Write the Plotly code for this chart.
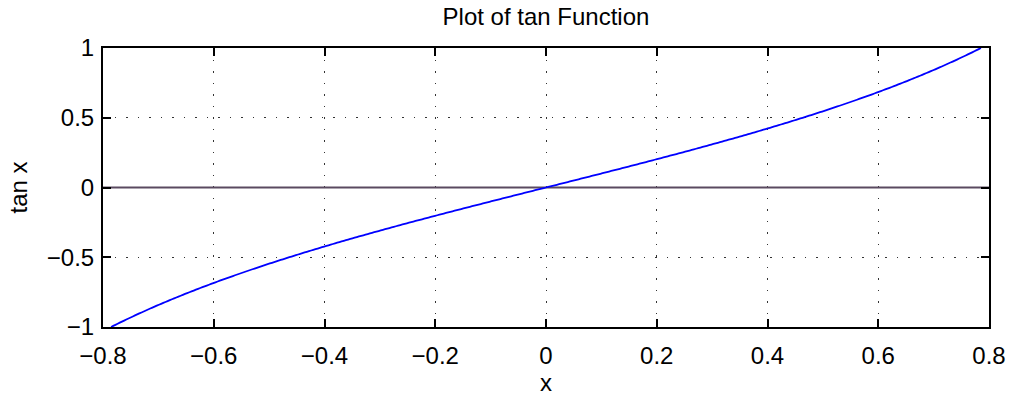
import numpy as np
import plotly.graph_objects as go

# data
x_start = -np.pi / 4
x_end = np.pi / 4
n_points = 401
x_vals = np.linspace(x_start, x_end, n_points)
y_vals = np.tan(x_vals)
zero_x = [-0.8, 0.8]
zero_y = [0, 0]
x_ticks = [-0.8, -0.6, -0.4, -0.2, 0, 0.2, 0.4, 0.6, 0.8]
y_ticks = [-1, -0.5, 0, 0.5, 1]

fig = go.Figure()
fig.add_trace(go.Scatter(x=zero_x, y=zero_y, mode="lines",
                         line=dict(color="#5a4a60", width=2), showlegend=False))
fig.add_trace(go.Scatter(x=x_vals, y=y_vals, mode="lines",
                         line=dict(color="#0000ff", width=1.8, simplify=False),
                         showlegend=False))

font = "Liberation Sans, Arial, sans-serif"
axis_common = dict(
    showline=True, linecolor="black", linewidth=2, mirror="ticks",
    ticks="inside", ticklen=8, tickcolor="black", tickwidth=1.5,
    showgrid=True, gridcolor="#333333", gridwidth=1, griddash="1.5px,10px",
    zeroline=False, tickfont=dict(family=font, size=24, color="black"),
)

fig.update_layout(
    width=1018, height=402,
    margin=dict(l=103, r=22, t=48, b=68),
    paper_bgcolor="white", plot_bgcolor="white",
    title=dict(text="Plot of tan Function", x=0.5, xref="paper", xanchor="center",
               y=1 - 17 / 402, yref="container", yanchor="middle",
               font=dict(family=font, size=24, color="black")),
    xaxis=dict(range=[-0.8, 0.8], tickvals=x_ticks, ticklabelstandoff=6,
               title=dict(text="x", font=dict(family=font, size=24, color="black"), standoff=4),
               **axis_common),
    yaxis=dict(range=[-1, 1], tickvals=y_ticks, ticklabelstandoff=2,
               title=dict(text="tan x", font=dict(family=font, size=24, color="black"), standoff=12),
               **axis_common),
)

fig.write_html("out.html",
               config={"displayModeBar": False},
               post_script="document.body.style.margin='0px';document.body.style.overflow='hidden';")
